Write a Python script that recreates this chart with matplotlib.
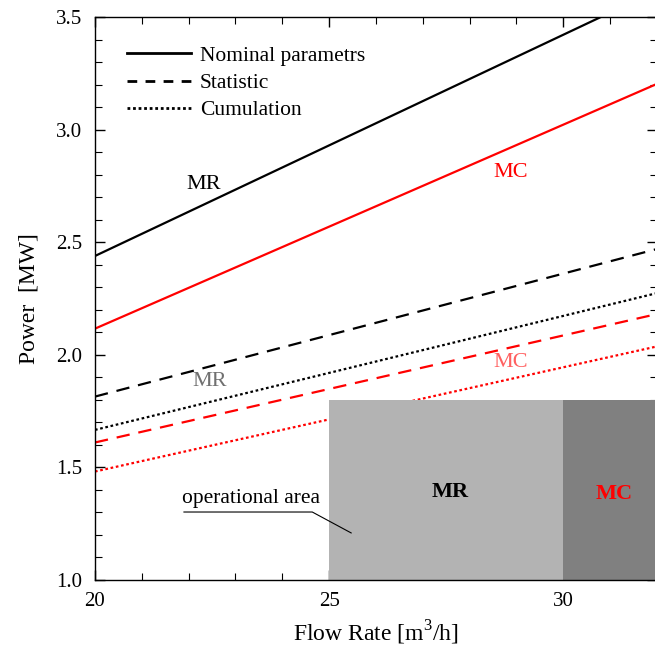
import matplotlib.pyplot as plt
from matplotlib.patches import Rectangle
from matplotlib.lines import Line2D
from matplotlib.ticker import MultipleLocator

plt.rcParams['font.family'] = ['Liberation Serif', 'DejaVu Serif']
plt.rcParams['mathtext.fontset'] = 'custom'
plt.rcParams['mathtext.rm'] = 'Liberation Serif'

# flow rate range [m3/h] and power at both ends [MW]
flow = [20, 32]
mr_nominal = [2.44, 3.62]
mc_nominal = [2.117, 3.205]
mr_statistic = [1.815, 2.471]
mr_cumulation = [1.667, 2.275]
mc_statistic = [1.611, 2.182]
mc_cumulation = [1.482, 2.038]

# operational areas (flow from, flow to, power top)
area_mr = [25, 30, 1.8]
area_mc = [30, 32, 1.8]

fig = plt.figure(figsize=(6.55, 6.48), dpi=100)
ax = fig.add_axes([0.145, 0.105, 0.858, 0.868])

dash = (0, (6, 4))
dot = (0, (1.2, 1.2))
ax.plot(flow, mr_nominal, color='black', lw=1.6)
ax.plot(flow, mc_nominal, color='red', lw=1.6)
ax.plot(flow, mr_statistic, color='black', lw=1.6, linestyle=dash)
ax.plot(flow, mc_statistic, color='red', lw=1.6, linestyle=dash)
ax.plot(flow, mr_cumulation, color='black', lw=1.6, linestyle=dot)
ax.plot(flow, mc_cumulation, color='red', lw=1.6, linestyle=dot)

ax.add_patch(Rectangle((area_mr[0], 1.0), area_mr[1] - area_mr[0], area_mr[2] - 1.0,
                       facecolor='#b3b3b3', edgecolor='none', zorder=2.2))
ax.add_patch(Rectangle((area_mc[0], 1.0), area_mc[1] - area_mc[0], area_mc[2] - 1.0,
                       facecolor='#808080', edgecolor='none', zorder=2.2))

# curve labels
ax.text(22.33, 2.757, 'MR', color='black', fontsize=16, ha='center', va='center')
ax.text(28.87, 2.81, 'MC', color='red', fontsize=16, ha='center', va='center')
ax.text(22.46, 1.88, 'MR', color='#707070', fontsize=16, ha='center', va='center')
ax.text(28.87, 1.965, 'MC', color='#ff6060', fontsize=16, ha='center', va='center')
ax.text(27.59, 1.39, 'MR', color='black', fontsize=16, fontweight='bold',
        ha='center', va='center', zorder=4)
ax.text(31.09, 1.38, 'MC', color='red', fontsize=16, fontweight='bold',
        ha='center', va='center', zorder=4)

# operational area callout
ax.text(21.85, 1.363, 'operational area', fontsize=15.5, ha='left', va='center')
ax.plot([21.9, 24.64, 25.47], [1.302, 1.302, 1.209], color='black', lw=0.8, zorder=4)

handles = [Line2D([], [], color='black', lw=2.0),
           Line2D([], [], color='black', lw=2.0, linestyle=(0, (3.5, 3))),
           Line2D([], [], color='black', lw=2.0, linestyle=(0, (1, 1)))]
ax.legend(handles, ['Nominal parametrs', 'Statistic', 'Cumulation'],
          loc='upper left', bbox_to_anchor=(0.022, 0.984), frameon=False,
          fontsize=15.5, handlelength=3.0, handletextpad=0.4, labelspacing=0.33)

ax.set_xlim(20, 32)
ax.set_ylim(1.0, 3.5)
ax.xaxis.set_major_locator(MultipleLocator(5))
ax.xaxis.set_minor_locator(MultipleLocator(1))
ax.yaxis.set_major_locator(MultipleLocator(0.5))
ax.yaxis.set_minor_locator(MultipleLocator(0.1))
ax.yaxis.set_major_formatter(plt.FormatStrFormatter('%.1f'))
ax.tick_params(which='both', direction='in', top=True, right=True, labelsize=15, width=1.0)
ax.tick_params(which='major', length=7, pad=9)
ax.tick_params(which='minor', length=5, width=0.8)
for s in ax.spines.values():
    s.set_linewidth(1.0)
    s.set_zorder(5)

ax.set_xlabel('Flow Rate [m$^3$/h]', fontsize=17, labelpad=5)
ax.set_ylabel('Power  [MW]', fontsize=17, labelpad=12)

fig.savefig('out.png', dpi=100)
